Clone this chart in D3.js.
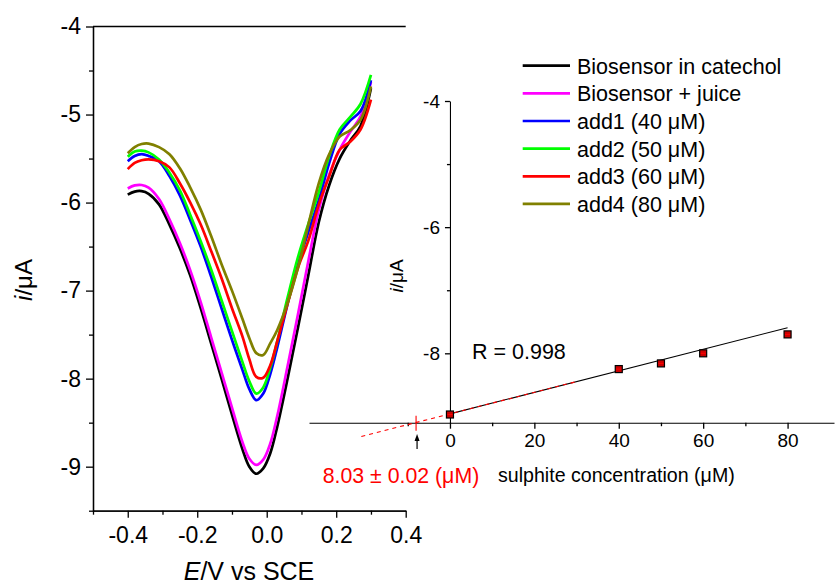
<!DOCTYPE html>
<html>
<head>
<meta charset="utf-8">
<script src="https://cdn.jsdelivr.net/npm/d3@7"></script>
<style>
  body { margin: 0; background: #fff; }
  svg { font-family: "Liberation Sans", Arial, sans-serif; }
</style>
</head>
<body>
<div id="chart"></div>
<script>
// Potential (V vs SCE) grid shared by all voltammograms
var potential = [-0.40, -0.38, -0.36, -0.34, -0.31, -0.28, -0.25, -0.22, -0.19, -0.16, -0.13, -0.10, -0.07,
	-0.05, -0.03, -0.01, 0.01, 0.03, 0.06, 0.09, 0.12, 0.15, 0.18, 0.21, 0.24, 0.27, 0.30];

// Current (uA) for each trace
var catechol = [-5.91, -5.875, -5.87, -5.90, -6.02, -6.25, -6.52, -6.83, -7.20, -7.60, -8.00, -8.41, -8.80,
	-9.00, -9.08, -9.02, -8.85, -8.55, -8.00, -7.42, -6.82, -6.22, -5.80, -5.50, -5.30, -5.13, -4.70];
var juice = [-5.84, -5.805, -5.80, -5.83, -5.96, -6.19, -6.46, -6.77, -7.13, -7.53, -7.93, -8.33, -8.72,
	-8.91, -8.98, -8.92, -8.74, -8.43, -7.86, -7.27, -6.66, -6.08, -5.68, -5.40, -5.20, -5.02, -4.63];
var add1 = [-5.53, -5.47, -5.45, -5.47, -5.53, -5.70, -5.92, -6.20, -6.50, -6.84, -7.20, -7.56, -7.90,
	-8.12, -8.245, -8.17, -7.95, -7.65, -7.15, -6.70, -6.33, -5.97, -5.55, -5.22, -5.07, -4.96, -4.61];
var add2 = [-5.48, -5.42, -5.41, -5.43, -5.51, -5.66, -5.86, -6.14, -6.44, -6.76, -7.11, -7.46, -7.81,
	-8.03, -8.17, -8.10, -7.88, -7.58, -7.08, -6.62, -6.24, -5.88, -5.47, -5.17, -5.03, -4.88, -4.55];
var add3 = [-5.62, -5.55, -5.52, -5.51, -5.53, -5.60, -5.78, -6.00, -6.25, -6.55, -6.86, -7.20, -7.52,
	-7.78, -7.98, -7.99, -7.85, -7.58, -7.15, -6.74, -6.43, -6.02, -5.70, -5.40, -5.31, -5.17, -4.83];
var add4 = [-5.44, -5.37, -5.335, -5.33, -5.37, -5.45, -5.61, -5.83, -6.08, -6.38, -6.70, -7.00, -7.32,
	-7.54, -7.71, -7.73, -7.60, -7.45, -7.14, -6.74, -6.25, -5.78, -5.45, -5.25, -5.18, -5.06, -4.68];

var seriesNames = ["Biosensor in catechol", "Biosensor + juice", "add1 (40 \u03bcM)", "add2 (50 \u03bcM)",
	"add3 (60 \u03bcM)", "add4 (80 \u03bcM)"];
var seriesColors = ["#000000", "#ff00ff", "#0000ff", "#00ff00", "#ff0000", "#808000"];
var seriesValues = [catechol, juice, add1, add2, add3, add4];

// Main axes ticks
var mainXTicks = [-0.4, -0.2, 0.0, 0.2, 0.4];
var mainXMinor = [-0.5, -0.3, -0.1, 0.1, 0.3];
var mainYTicks = [-4, -5, -6, -7, -8, -9];
var mainYMinor = [-4.5, -5.5, -6.5, -7.5, -8.5, -9.5];

// Inset: standard addition plot
var concentration = [0, 40, 50, 60, 80];
var peakCurrent = [-8.97, -8.25, -8.16, -8.00, -7.70];
var fitX = [0, 80];
var fitY = [-8.96, -7.595];
var extrapX = [-21, 30];
var detected = -8.03;
var insetXTicks = [0, 20, 40, 60, 80];
var insetXMinor = [-10, 10, 30, 50, 70];
var insetYTicks = [-4, -6, -8];
var insetYMinor = [-5, -7];

var width = 835, height = 586;

var svg = d3.select("#chart").append("svg")
	.attr("width", width)
	.attr("height", height);

// ---------- main voltammogram ----------
var x = d3.scaleLinear().domain([-0.5, 0.4]).range([93, 405.7]);
var y = d3.scaleLinear().domain([-9.5, -4]).range([510.7, 26.5]);

function styleAxis(g, size) {
	g.select(".domain").attr("stroke", "#000").attr("stroke-width", 1.3);
	g.selectAll(".tick line").attr("stroke", "#000").attr("stroke-width", 1.3);
	g.selectAll(".tick text").attr("fill", "#000").attr("font-size", size)
		.attr("font-family", "'Liberation Sans', Arial, sans-serif");
}

var fmt1 = function(d) { return d.toFixed(1); };

var gx = svg.append("g").attr("transform", "translate(0," + y(-9.5) + ")")
	.call(d3.axisBottom(x).tickValues(mainXTicks).tickFormat(fmt1).tickSize(7).tickSizeOuter(0).tickPadding(9));
styleAxis(gx, 23);
var gxm = svg.append("g").attr("transform", "translate(0," + y(-9.5) + ")")
	.call(d3.axisBottom(x).tickValues(mainXMinor).tickFormat("").tickSize(4).tickSizeOuter(0));
styleAxis(gxm, 22);

var gy = svg.append("g").attr("transform", "translate(" + x(-0.5) + ",0)")
	.call(d3.axisLeft(y).tickValues(mainYTicks).tickSize(7).tickSizeOuter(0).tickPadding(5));
styleAxis(gy, 23);
gy.selectAll(".tick text").text(function(d) { return String(d); });
var gym = svg.append("g").attr("transform", "translate(" + x(-0.5) + ",0)")
	.call(d3.axisLeft(y).tickValues(mainYMinor).tickFormat("").tickSize(4).tickSizeOuter(0));
styleAxis(gym, 22);

// top frame line
svg.append("line")
	.attr("x1", x(-0.5)).attr("x2", x(0.4))
	.attr("y1", y(-4)).attr("y2", y(-4))
	.attr("stroke", "#000").attr("stroke-width", 1.3);

var line = d3.line()
	.x(function(d) { return x(d[0]); })
	.y(function(d) { return y(d[1]); })
	.curve(d3.curveCatmullRom.alpha(0.5));

svg.append("g")
	.selectAll("path")
	.data(seriesValues)
	.enter().append("path")
	.attr("fill", "none")
	.attr("stroke", function(d, i) { return seriesColors[i]; })
	.attr("stroke-width", 2.7)
	.attr("d", function(vals) { return line(potential.map(function(p, j) { return [p, vals[j]]; })); });

// axis titles
var xt = svg.append("text")
	.attr("x", 249).attr("y", 580)
	.attr("text-anchor", "middle")
	.attr("font-size", 25);
xt.append("tspan").attr("font-style", "italic").text("E");
xt.append("tspan").text("/V vs SCE");

var yt = svg.append("text")
	.attr("transform", "translate(32,280) rotate(-90)")
	.attr("text-anchor", "middle")
	.attr("font-size", 24);
yt.append("tspan").attr("font-style", "italic").text("i");
yt.append("tspan").text("/\u03bcA");

// ---------- legend ----------
var legend = svg.append("g")
	.selectAll("g")
	.data(seriesNames)
	.enter().append("g")
	.attr("transform", function(d, i) { return "translate(0," + (65.7 + i * 27.65) + ")"; });
legend.append("line")
	.attr("x1", 522.7).attr("x2", 570)
	.attr("stroke", function(d, i) { return seriesColors[i]; })
	.attr("stroke-width", 2.7);
legend.append("text")
	.attr("x", 577).attr("y", 8)
	.attr("font-size", 21.5)
	.text(function(d) { return d; });

// ---------- inset ----------
var xi = d3.scaleLinear().domain([-33.4, 91]).range([309, 834]);
var yi = d3.scaleLinear().domain([-9.1, -4]).range([422.7, 101]);

var gix = svg.append("g").attr("transform", "translate(0," + yi(-9.1) + ")")
	.call(d3.axisBottom(xi).tickValues(insetXTicks).tickFormat(d3.format("d")).tickSize(6).tickSizeOuter(0).tickPadding(5));
styleAxis(gix, 19);
gix.select(".domain").attr("stroke-width", 1.1);
var gixm = svg.append("g").attr("transform", "translate(0," + yi(-9.1) + ")")
	.call(d3.axisBottom(xi).tickValues(insetXMinor).tickFormat("").tickSize(3.5).tickSizeOuter(0));
styleAxis(gixm, 19);
gixm.select(".domain").remove();

var giy = svg.append("g").attr("transform", "translate(" + xi(0) + ",0)")
	.call(d3.axisLeft(yi).tickValues(insetYTicks).tickSize(5).tickSizeOuter(0).tickPadding(5));
styleAxis(giy, 19);
giy.selectAll(".tick text").text(function(d) { return String(d); });
giy.select(".domain").attr("stroke-width", 1.1);
var giym = svg.append("g").attr("transform", "translate(" + xi(0) + ",0)")
	.call(d3.axisLeft(yi).tickValues(insetYMinor).tickFormat("").tickSize(3).tickSizeOuter(0));
styleAxis(giym, 19);
giym.select(".domain").remove();

// fit line and extrapolation
var fitSlope = (fitY[1] - fitY[0]) / (fitX[1] - fitX[0]);
function fitAt(c) { return fitY[0] + fitSlope * (c - fitX[0]); }

svg.append("line")
	.attr("x1", xi(fitX[0])).attr("y1", yi(fitY[0]))
	.attr("x2", xi(fitX[1])).attr("y2", yi(fitY[1]))
	.attr("stroke", "#000").attr("stroke-width", 1.1);
svg.append("line")
	.attr("x1", xi(extrapX[0])).attr("y1", yi(fitAt(extrapX[0])))
	.attr("x2", xi(extrapX[1])).attr("y2", yi(fitAt(extrapX[1])))
	.attr("stroke", "#ff0000").attr("stroke-width", 1.1)
	.attr("stroke-dasharray", "4,4");

// detection marker on axis
svg.append("line")
	.attr("x1", xi(detected)).attr("x2", xi(detected))
	.attr("y1", yi(-9.1) - 7).attr("y2", yi(-9.1) + 8)
	.attr("stroke", "#ff0000").attr("stroke-width", 1.1);

// arrow
svg.append("line")
	.attr("x1", xi(detected) + 1).attr("x2", xi(detected) + 1)
	.attr("y1", 449).attr("y2", 439)
	.attr("stroke", "#000").attr("stroke-width", 1.2);
svg.append("path")
	.attr("d", d3.line()([[xi(detected) + 1, 434], [xi(detected) - 1.5, 441], [xi(detected) + 3.5, 441]]) + "Z")
	.attr("fill", "#000");

// data points
var pts = svg.append("g")
	.selectAll("g")
	.data(concentration)
	.enter().append("g")
	.attr("transform", function(d, i) { return "translate(" + xi(d) + "," + yi(peakCurrent[i]) + ")"; });
pts.append("rect")
	.attr("x", -3.5).attr("y", -3.5).attr("width", 7).attr("height", 7)
	.attr("fill", "#cc0000").attr("stroke", "#000").attr("stroke-width", 1.2);
pts.append("line")
	.attr("x1", -2.5).attr("x2", 2.5)
	.attr("stroke", "#ff0000").attr("stroke-width", 1);

// inset labels
svg.append("text")
	.attr("x", 472).attr("y", 359)
	.attr("font-size", 21.5)
	.text("R = 0.998");

svg.append("text")
	.attr("x", 322.7).attr("y", 483)
	.attr("font-size", 21.3)
	.attr("fill", "#ff0000")
	.text("8.03 \u00b1 0.02 (\u03bcM)");

svg.append("text")
	.attr("x", 498).attr("y", 482)
	.attr("font-size", 19.6)
	.text("sulphite concentration (\u03bcM)");

var yit = svg.append("text")
	.attr("transform", "translate(403,276) rotate(-90)")
	.attr("text-anchor", "middle")
	.attr("font-size", 19);
yit.append("tspan").attr("font-style", "italic").text("i");
yit.append("tspan").text("/\u03bcA");
</script>
</body>
</html>
